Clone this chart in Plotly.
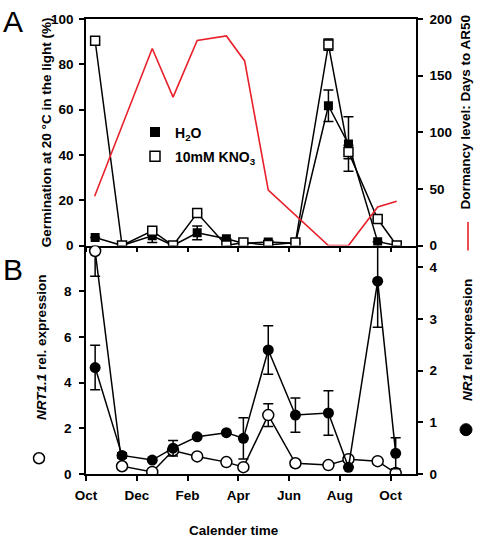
import plotly.graph_objects as go

# ---------------- data ----------------
month_ticks = [0, 2, 4, 6, 8, 10, 12]
month_labels = ["Oct", "Dec", "Feb", "Apr", "Jun", "Aug", "Oct"]

# sampling dates (months after 1 Oct)
months_A = [0.36, 1.42, 2.61, 3.43, 4.38, 5.53, 6.2, 7.18, 8.25, 9.55, 10.34, 11.49, 12.24]
germ_h2o = [3.5, 0, 4.3, 0, 5.6, 3, 1, 1.5, 1, 61.7, 44.8, 1.7, 0]
germ_h2o_err = [0, 0, 3, 0, 3, 0, 0, 0, 0, 7, 12, 0, 0]
germ_kno3 = [90.4, 0, 6.5, 0, 14.3, 0, 1.3, 0.2, 1.3, 88.7, 41.3, 11.7, 0]
germ_kno3_err = [0, 0, 0, 0, 0, 0, 0, 0, 0, 2.5, 3, 0, 0]

months_D = [0.34, 2.61, 3.43, 4.38, 5.53, 6.25, 7.18, 9.55, 10.34, 11.49, 12.24]
dormancy = [43.5, 174, 131, 181, 185, 163, 49, 0, 0, 34, 39]

months_B = [0.36, 1.42, 2.61, 3.43, 4.38, 5.53, 6.2, 7.18, 8.25, 9.55, 10.34, 11.49, 12.2]
nrt11 = [9.76, 0.34, 0.09, 1.03, 0.77, 0.52, 0.30, 2.58, 0.47, 0.39, 0.65, 0.56, 0.04]
nrt11_err = [1.1, 0, 0, 0, 0, 0, 0, 0.5, 0, 0, 0, 0, 0]
nr1 = [2.06, 0.36, 0.27, 0.5, 0.72, 0.80, 0.69, 2.40, 1.14, 1.18, 0.13, 3.73, 0.40]
nr1_err = [0.43, 0.05, 0, 0.15, 0, 0, 0.4, 0.47, 0.33, 0.43, 0, 0.89, 0.3]

# ---------------- layout helpers ----------------
W, H = 477, 540
L, R, T, B = 86, 61, 12, 66
PW, PH = W - L - R, H - T - B
FONT = "Arial, Liberation Sans, sans-serif"
split = (474 - 242) / PH


def px(x):
    return (x - L) / PW


def py(y):
    return (H - B - y) / PH


fig = go.Figure()

line = dict(color="black", width=1.5)
err = lambda a: dict(type="data", array=a, visible=True, color="black", thickness=1.5, width=5)

# Panel A
fig.add_trace(go.Scatter(x=months_A, y=germ_h2o, mode="lines+markers", line=line,
                         marker=dict(symbol="square", size=9, color="black"),
                         error_y=err(germ_h2o_err), xaxis="x", yaxis="y", showlegend=False))
fig.add_trace(go.Scatter(x=months_A, y=germ_kno3, mode="lines+markers", line=line,
                         marker=dict(symbol="square", size=9, color="white",
                                     line=dict(color="black", width=1.5)),
                         error_y=err(germ_kno3_err), xaxis="x", yaxis="y", showlegend=False))
fig.add_trace(go.Scatter(x=months_D, y=dormancy, mode="lines",
                         line=dict(color="#e8202a", width=1.6),
                         xaxis="x", yaxis="y2", showlegend=False))

# legend entries
fig.add_trace(go.Scatter(x=[None], y=[None], mode="markers", name="H<sub>2</sub>O",
                         marker=dict(symbol="square", size=10, color="black"),
                         legendgroup="a", xaxis="x", yaxis="y"))
fig.add_trace(go.Scatter(x=[None], y=[None], mode="markers", name="10mM KNO<sub>3</sub>",
                         marker=dict(symbol="square", size=10, color="white",
                                     line=dict(color="black", width=1.5)),
                         legendgroup="b", xaxis="x", yaxis="y"))

# Panel B
fig.add_trace(go.Scatter(x=months_B, y=nr1, mode="lines+markers", line=line,
                         marker=dict(symbol="circle", size=11, color="black"),
                         error_y=err(nr1_err), xaxis="x2", yaxis="y4", showlegend=False))
fig.add_trace(go.Scatter(x=months_B, y=nrt11, mode="lines+markers", line=line,
                         marker=dict(symbol="circle", size=11, color="white",
                                     line=dict(color="black", width=1.5)),
                         error_y=err(nrt11_err), xaxis="x2", yaxis="y3", showlegend=False))

tickfont = dict(family=FONT, size=13.5, color="black", weight="bold")
base = dict(showgrid=False, zeroline=False, linecolor="black", linewidth=1.5,
            tickcolor="black", tickwidth=1.5, ticklen=5, tickfont=tickfont)
inside = dict(showgrid=False, zeroline=False, showline=False, ticks="inside",
              tickcolor="black", tickwidth=1.5, ticklen=5, showticklabels=False)

xr = [0, 13]
fig.update_layout(
    width=W, height=H, margin=dict(l=L, r=R, t=T, b=B),
    paper_bgcolor="white", plot_bgcolor="white",
    font=dict(family=FONT, color="black"),
    xaxis=dict(base, domain=[0, 1], anchor="y", range=xr, tickvals=month_ticks,
               showticklabels=False, ticks="outside", showline=True, mirror=True),
    yaxis=dict(base, domain=[split, 1], anchor="x", range=[0, 100],
               tickvals=[0, 20, 40, 60, 80, 100], ticks="outside", showline=True,
               ticklabelstandoff=3),
    yaxis2=dict(base, overlaying="y", side="right", anchor="x", range=[0, 200],
                tickvals=[0, 50, 100, 150, 200], ticks="outside", showline=True,
                ticklabelstandoff=4),
    xaxis2=dict(base, domain=[0, 1], anchor="y3", range=xr, tickvals=month_ticks,
                ticktext=month_labels, ticks="outside", showline=True,
                ticklabelstandoff=3),
    yaxis3=dict(base, domain=[0, split], anchor="x2", range=[0, 10],
                tickvals=[0, 2, 4, 6, 8], ticks="outside", showline=True,
                ticklabelstandoff=5),
    yaxis4=dict(base, overlaying="y3", side="right", anchor="x2", range=[0, 4.42],
                tickvals=[0, 1, 2, 3, 4], ticks="outside", showline=True,
                ticklabelstandoff=4),
    xaxis3=dict(inside, overlaying="x", anchor="y", range=xr, tickvals=month_ticks),
    xaxis4=dict(inside, overlaying="x2", anchor="y3", range=xr, tickvals=month_ticks),
    yaxis5=dict(inside, overlaying="y", side="right", anchor="x", range=[0, 200],
                tickvals=[0, 50, 100, 150, 200]),
    yaxis6=dict(inside, overlaying="y3", side="left", anchor="x2", range=[0, 10],
                tickvals=[0, 2, 4, 6, 8]),
    yaxis7=dict(inside, overlaying="y3", side="right", anchor="x2", range=[0, 4.42],
                tickvals=[0, 1, 2, 3, 4]),
    legend=dict(x=px(135), y=py(111), xanchor="left", yanchor="top",
                bgcolor="rgba(0,0,0,0)", tracegroupgap=3,
                font=dict(family=FONT, size=14, color="black", weight="bold")),
)

ann_font = dict(family=FONT, size=13.5, color="black", weight="bold")
anns = [
    dict(text="Germination at 20 °C in the light (%)", x=px(46), y=py(127), textangle=-90),
    dict(text="Dormancy level: Days to AR50", x=px(466), y=py(107), textangle=-90),
    dict(text="<i>NRT1.1</i> rel. expression", x=px(42), y=py(346), textangle=-90),
    dict(text="<i>NR1</i> rel.expression", x=px(467), y=py(338), textangle=-90),
    dict(text="Calender time", x=px(234), y=py(531), textangle=0),
]
for a in anns:
    fig.add_annotation(xref="paper", yref="paper", showarrow=False, font=ann_font,
                       xanchor="center", yanchor="middle", **a)
for letter, (lx, ly) in {"A": (13, 15), "B": (13, 266)}.items():
    fig.add_annotation(text=letter, xref="paper", yref="paper", x=px(lx), y=py(ly),
                       showarrow=False, xanchor="center", yanchor="middle",
                       font=dict(family=FONT, size=30, color="black"))

# decorative symbols next to axis titles
fig.add_shape(type="line", xref="paper", yref="paper", x0=px(468), x1=px(468),
              y0=py(218), y1=py(247), line=dict(color="#e8202a", width=1.6))
fig.add_shape(type="circle", xref="paper", yref="paper", xsizemode="pixel", ysizemode="pixel",
              xanchor=px(39), yanchor=py(458), x0=-5.5, x1=5.5, y0=-5.5, y1=5.5,
              line=dict(color="black", width=1.5), fillcolor="white")
fig.add_shape(type="circle", xref="paper", yref="paper", xsizemode="pixel", ysizemode="pixel",
              xanchor=px(466), yanchor=py(429), x0=-6, x1=6, y0=-6, y1=6,
              line=dict(color="black", width=1), fillcolor="black")

fig.write_html("out.html", config={"displayModeBar": False},
               post_script="document.body.style.margin='0';")
